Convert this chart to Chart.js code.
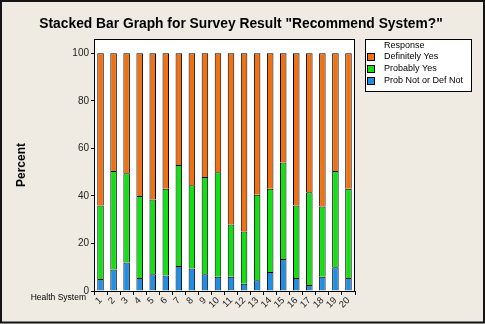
<!DOCTYPE html>
<html>
<head>
<meta charset="utf-8">
<script src="https://cdn.jsdelivr.net/npm/chart.js@4/dist/chart.umd.min.js"></script>
<style>
  html, body { margin: 0; padding: 0; background: #efebe3; }
  canvas { display: block; }
</style>
</head>
<body>
<canvas id="survey" width="485" height="324"></canvas>
<script>
// survey responses per health system, percent of respondents
const healthSystems = ['1','2','3','4','5','6','7','8','9','10','11','12','13','14','15','16','17','18','19','20'];
const probNotOrDefNot = [5, 9, 12, 5.5, 7, 6.5, 10.5, 9.5, 7, 6, 6, 3, 4.5, 8, 13.5, 5.5, 2.5, 6, 10, 5.5];
const probablyYes     = [31, 41.5, 37.5, 34.5, 31.5, 36.5, 42.5, 35, 41, 44, 22, 22, 36, 35, 40.5, 30.5, 39, 29.5, 40.5, 37.5];
const definitelyYes   = [64, 49.5, 50.5, 60, 61.5, 57, 47, 55.5, 52, 50, 72, 75, 59.5, 57, 46, 64, 58.5, 64.5, 49.5, 57];
const yTicks = [0, 20, 40, 60, 80, 100];

const FONT = '"Liberation Sans", Arial, sans-serif';
const BG = '#efebe3';
const TITLE = 'Stacked Bar Graph for Survey Result "Recommend System?"';

// background, title, white plot frame, legend box and the x-axis caption
const frame = {
  id: 'frame',
  beforeDraw(chart) {
    const { ctx, chartArea: a, width, height } = chart;
    ctx.save();
    ctx.fillStyle = BG;
    ctx.fillRect(0, 0, width, height);
    ctx.strokeStyle = '#151515';
    ctx.lineWidth = 2;
    ctx.strokeRect(1, 1, width - 2, height - 2.5);
    ctx.fillStyle = '#fff';
    ctx.fillRect(a.left, a.top, a.right - a.left, a.bottom - a.top);

    ctx.fillStyle = '#000';
    ctx.font = 'bold 13.8px ' + FONT;
    ctx.textAlign = 'center';
    ctx.textBaseline = 'middle';
    ctx.fillText(TITLE, 241, 24);
    ctx.restore();
  },
  afterDraw(chart) {
    const { ctx, chartArea: a } = chart;
    ctx.save();
    ctx.strokeStyle = '#000';
    ctx.lineWidth = 1;
    ctx.strokeRect(a.left + 0.5, a.top + 0.5, a.right - a.left - 1, a.bottom - a.top);

    // legend
    ctx.fillStyle = '#fff';
    ctx.fillRect(365, 39, 107, 53);
    ctx.strokeRect(365.5, 39.5, 106, 52);
    ctx.font = '9px ' + FONT;
    ctx.textBaseline = 'middle';
    ctx.textAlign = 'left';
    ctx.fillStyle = '#000';
    ctx.fillText('Response', 384, 46);
    const sets = chart.data.datasets.slice().reverse();
    sets.forEach((ds, i) => {
      const y = 57 + i * 12;
      ctx.fillStyle = ds.backgroundColor;
      ctx.fillRect(368, y - 3, 6, 6);
      ctx.strokeRect(367.5, y - 3.5, 7, 7);
      ctx.fillStyle = '#000';
      ctx.fillText(ds.label, 384, y);
    });

    ctx.font = '8.5px ' + FONT;
    ctx.textAlign = 'right';
    ctx.fillText('Health System', 86, 298);
    ctx.restore();
  }
};

new Chart(document.getElementById('survey'), {
  type: 'bar',
  data: {
    labels: healthSystems,
    datasets: [
      { label: 'Prob Not or Def Not', data: probNotOrDefNot, backgroundColor: '#1e8fe4' },
      { label: 'Probably Yes',        data: probablyYes,     backgroundColor: '#12e012' },
      { label: 'Definitely Yes',      data: definitelyYes,   backgroundColor: '#f07112' }
    ].map(d => Object.assign(d, {
      borderColor: '#000',
      borderWidth: 1,
      borderSkipped: 'start',
      barPercentage: 0.5,
      categoryPercentage: 1
    }))
  },
  options: {
    responsive: false,
    animation: false,
    devicePixelRatio: 1,
    layout: { padding: { left: 0, right: 130, top: 39, bottom: 0 } },
    plugins: {
      legend: { display: false },
      tooltip: { enabled: false },
      title: { display: false }
    },
    scales: {
      x: {
        stacked: true,
        offset: true,
        grid: { drawOnChartArea: false, drawTicks: true, tickLength: 4, color: '#000' },
        border: { display: false },
        ticks: {
          color: '#222',
          font: { family: FONT, size: 9.5 },
          minRotation: 45,
          maxRotation: 45,
          padding: 0,
          autoSkip: false
        },
        afterFit(s) { s.height = 33; }
      },
      y: {
        stacked: true,
        min: 0,
        max: 106,
        afterBuildTicks(s) { s.ticks = yTicks.map(v => ({ value: v })); },
        grid: { drawOnChartArea: false, drawTicks: true, tickLength: 3, color: '#000' },
        border: { display: false },
        ticks: { color: '#222', font: { family: FONT, size: 10 }, padding: 2 },
        title: {
          display: true,
          text: 'Percent',
          color: '#000',
          font: { family: FONT, size: 12, weight: 'bold' },
          padding: { top: 14, bottom: 0 }
        },
        afterFit(s) { s.width = 94; }
      }
    }
  },
  plugins: [frame]
});
</script>
</body>
</html>
